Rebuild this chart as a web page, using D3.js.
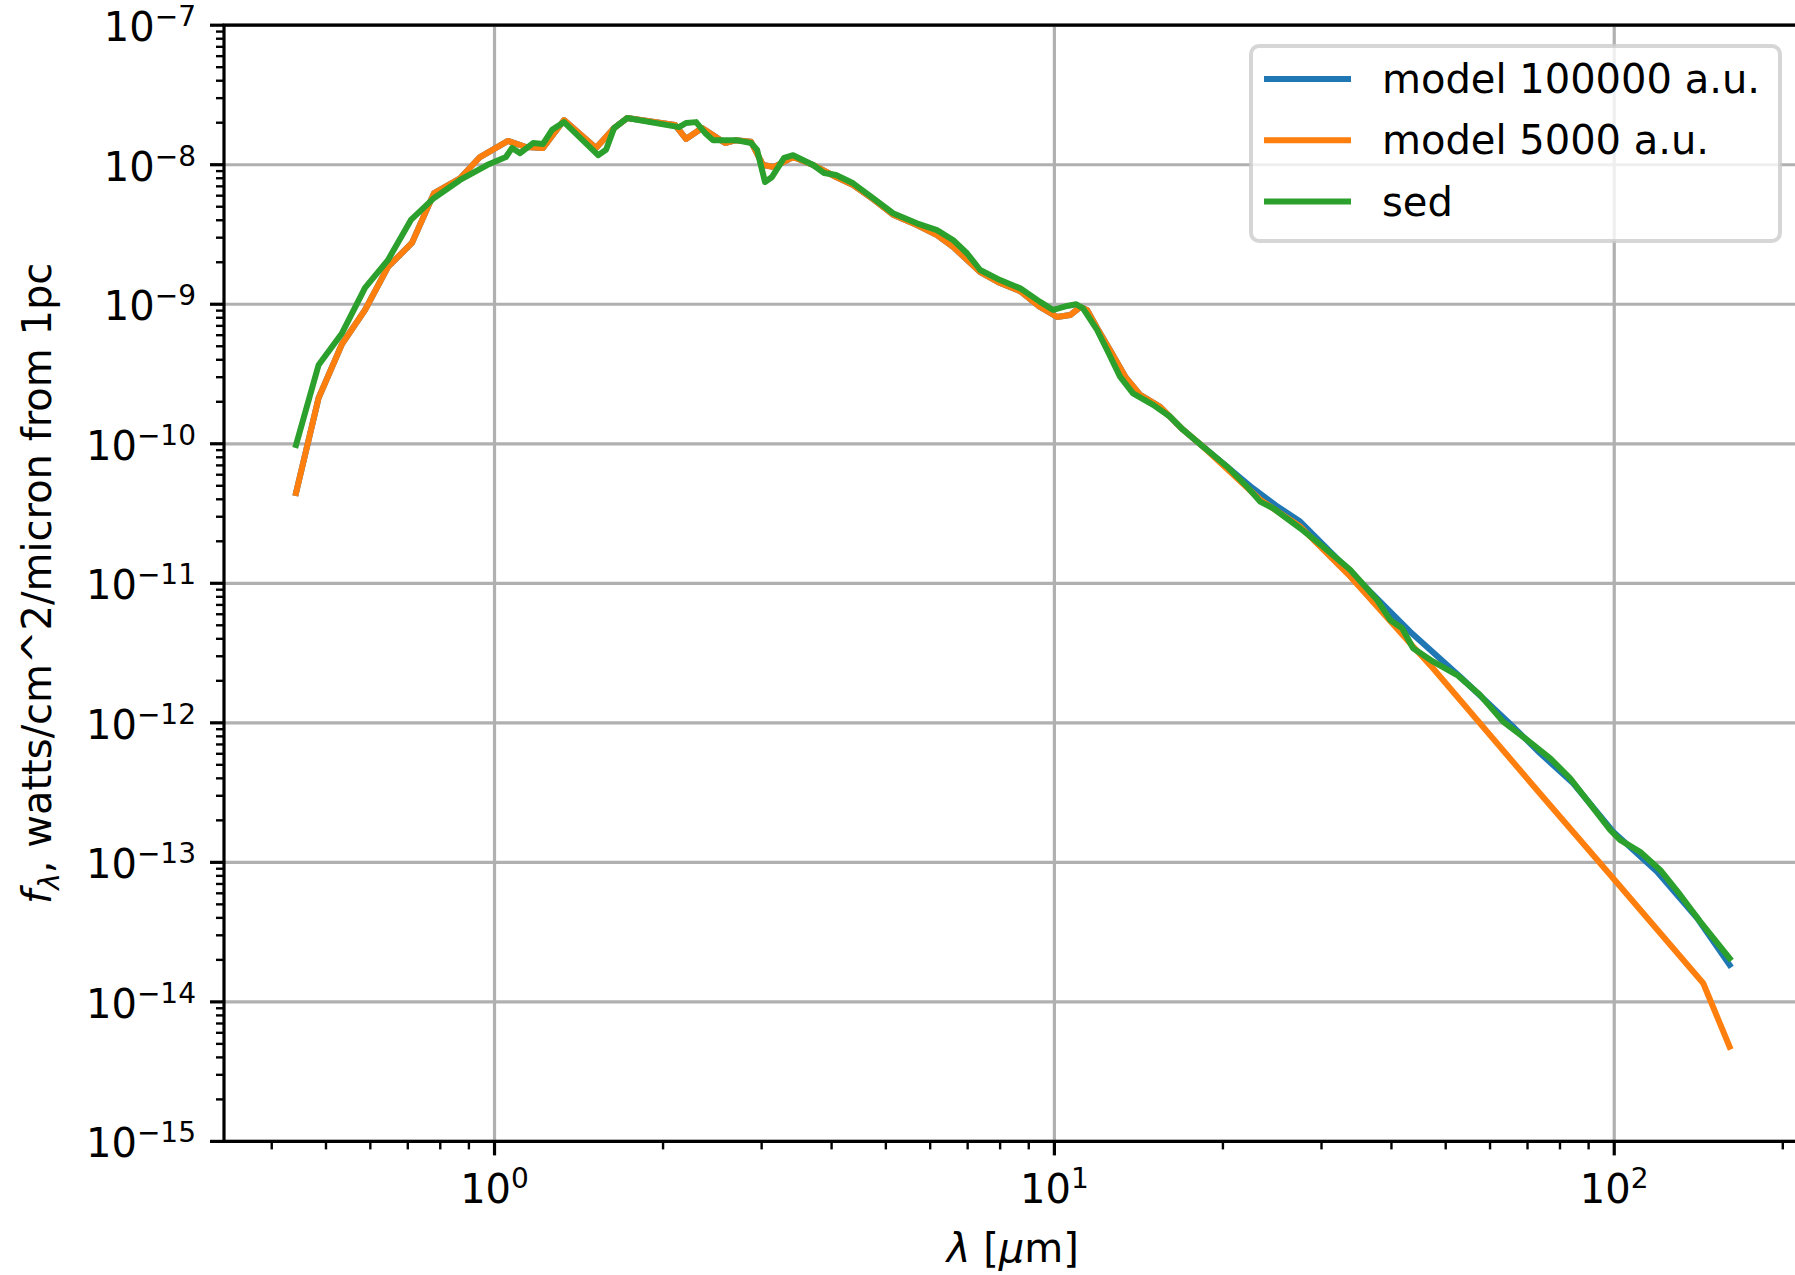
<!DOCTYPE html>
<html lang="en">
<head>
<meta charset="utf-8">
<title>SED models</title>
<script src="https://cdn.jsdelivr.net/npm/d3@7"></script>
<style>
  * { margin:0; padding:0; }
  body { background:#fff; width:1795px; height:1275px; overflow:hidden; }
  svg { display:block; font-family:'DejaVu Sans', sans-serif; }
  .grid line { stroke:#b0b0b0; stroke-width:3.2; }
  .tick-major { stroke:#000; stroke-width:3.2; }
  .tick-minor { stroke:#000; stroke-width:2.4; }
  .spine { stroke:#000; stroke-width:3.2; fill:none; stroke-linecap:square; }
  .series { fill:none; stroke-width:6; stroke-linejoin:round; stroke-linecap:square; }
  .lbl { font-size:40px; fill:#000; }
</style>
</head>
<body>
<svg id="chart" width="1795" height="1275"></svg>
<script>
// ─── Data (wavelength in micron, flux in W/cm^2/micron at 1pc) ───
const model100000 = [
  [0.442, 4.44e-11], [0.485, 2.13e-10], [0.534, 5.19e-10], [0.587, 9.10e-10], [0.645, 1.85e-9],
  [0.712, 2.75e-9], [0.780, 6.27e-9], [0.868, 8.0e-9], [0.942, 1.135e-8], [1.057, 1.48e-8],
  [1.138, 1.34e-8], [1.221, 1.32e-8], [1.331, 2.09e-8], [1.518, 1.32e-8], [1.635, 1.83e-8],
  [1.725, 2.16e-8], [2.101, 1.93e-8], [2.198, 1.53e-8], [2.348, 1.83e-8], [2.581, 1.43e-8],
  [2.700, 1.50e-8], [2.872, 1.46e-8], [3.017, 9.95e-9], [3.158, 9.64e-9], [3.414, 1.135e-8],
  [3.707, 9.95e-9], [4.074, 8.17e-9], [4.37, 7.15e-9], [4.75, 5.65e-9], [5.15, 4.38e-9],
  [5.68, 3.70e-9], [6.17, 3.13e-9], [6.59, 2.58e-9], [7.37, 1.70e-9], [8.00, 1.42e-9],
  [8.69, 1.24e-9], [9.43, 9.55e-10], [10.11, 8.10e-10], [10.67, 8.37e-10], [11.12, 9.55e-10],
  [11.44, 9.10e-10], [11.92, 6.76e-10], [12.57, 4.70e-10], [13.38, 3.03e-10], [14.23, 2.24e-10],
  [15.45, 1.84e-10], [16.98, 1.26e-10], [18.44, 9.53e-11], [20.35, 6.85e-11], [22.37, 4.98e-11],
  [24.80, 3.64e-11], [27.48, 2.77e-11], [35.17, 1.03e-11], [43.19, 4.50e-12], [53.06, 2.14e-12],
  [65.97, 9.38e-13], [73.74, 6.05e-13], [84.45, 3.69e-13], [99.54, 1.66e-13], [119.3, 8.57e-14],
  [140.7, 3.97e-14], [160.7, 1.84e-14]
];

const model5000 = [
  [0.442, 4.44e-11], [0.485, 2.13e-10], [0.534, 5.19e-10], [0.587, 9.10e-10], [0.645, 1.85e-9],
  [0.712, 2.75e-9], [0.780, 6.27e-9], [0.868, 8.0e-9], [0.942, 1.135e-8], [1.057, 1.48e-8],
  [1.138, 1.34e-8], [1.221, 1.32e-8], [1.331, 2.09e-8], [1.518, 1.32e-8], [1.635, 1.83e-8],
  [1.725, 2.16e-8], [2.101, 1.93e-8], [2.198, 1.53e-8], [2.348, 1.83e-8], [2.581, 1.43e-8],
  [2.700, 1.50e-8], [2.872, 1.46e-8], [3.017, 9.95e-9], [3.158, 9.64e-9], [3.414, 1.135e-8],
  [3.707, 9.95e-9], [4.074, 8.17e-9], [4.37, 7.15e-9], [4.75, 5.65e-9], [5.15, 4.38e-9],
  [5.68, 3.70e-9], [6.17, 3.13e-9], [6.59, 2.58e-9], [7.37, 1.70e-9], [8.00, 1.42e-9],
  [8.69, 1.24e-9], [9.43, 9.55e-10], [10.11, 8.10e-10], [10.67, 8.37e-10], [11.12, 9.55e-10],
  [11.44, 9.10e-10], [11.92, 6.76e-10], [12.57, 4.70e-10], [13.38, 3.03e-10], [14.23, 2.24e-10],
  [15.45, 1.84e-10], [16.98, 1.26e-10], [18.44, 9.53e-11], [20.35, 6.60e-11], [23.31, 3.97e-11],
  [27.48, 2.55e-11], [33.75, 1.12e-11], [38.67, 6.10e-12], [43.19, 3.72e-12], [47.49, 2.45e-12],
  [73.74, 3.10e-13], [99.54, 7.7e-14], [144.2, 1.36e-14], [160.7, 4.77e-15]
];

const sed = [
  [0.442, 9.8e-11], [0.485, 3.67e-10], [0.534, 6.2e-10], [0.587, 1.31e-9], [0.645, 2.07e-9],
  [0.709, 4.02e-9], [0.780, 5.78e-9], [0.868, 7.78e-9], [0.970, 9.95e-9], [1.048, 1.135e-8],
  [1.075, 1.32e-8], [1.111, 1.21e-8], [1.172, 1.43e-8], [1.221, 1.41e-8], [1.267, 1.78e-8],
  [1.331, 2.02e-8], [1.531, 1.17e-8], [1.582, 1.28e-8], [1.635, 1.83e-8], [1.725, 2.16e-8],
  [2.136, 1.86e-8], [2.198, 1.99e-8], [2.291, 2.02e-8], [2.377, 1.69e-8], [2.457, 1.50e-8],
  [2.700, 1.50e-8], [2.872, 1.43e-8], [2.944, 1.28e-8], [3.042, 7.52e-9], [3.131, 8.17e-9],
  [3.290, 1.12e-8], [3.414, 1.17e-8], [3.707, 9.95e-9], [3.879, 8.73e-9], [4.074, 8.44e-9],
  [4.37, 7.36e-9], [4.75, 5.74e-9], [5.15, 4.49e-9], [5.68, 3.80e-9], [6.17, 3.40e-9],
  [6.59, 2.89e-9], [6.98, 2.32e-9], [7.37, 1.76e-9], [8.00, 1.49e-9], [8.69, 1.30e-9],
  [9.43, 1.04e-9], [9.95, 9.10e-10], [10.54, 9.72e-10], [10.94, 1.00e-9], [11.25, 9.35e-10],
  [11.92, 6.54e-10], [12.42, 4.70e-10], [13.10, 3.03e-10], [13.82, 2.30e-10], [15.01, 1.90e-10],
  [16.10, 1.56e-10], [16.98, 1.26e-10], [18.44, 9.53e-11], [20.35, 6.85e-11], [22.09, 4.92e-11],
  [23.31, 3.85e-11], [24.59, 3.45e-11], [27.48, 2.48e-11], [30.20, 1.83e-11], [33.75, 1.25e-11],
  [37.72, 7.59e-12], [39.79, 5.46e-12], [41.80, 4.76e-12], [43.73, 3.42e-12], [47.49, 2.74e-12],
  [52.42, 2.20e-12], [57.60, 1.58e-12], [63.31, 1.02e-12], [69.88, 7.54e-13], [76.84, 5.57e-13],
  [83.42, 4.00e-13], [98.33, 1.71e-13], [102.4, 1.45e-13], [111.2, 1.19e-13], [120.8, 8.82e-14],
  [131.2, 5.84e-14], [142.4, 3.76e-14], [160.7, 2.05e-14]
];

const seriesNames = ['model 100000 a.u.', 'model 5000 a.u.', 'sed'];
const seriesColors = ['#1f77b4', '#ff7f0e', '#2ca02c'];
const xMajor = [1, 10, 100];
const xMajorExp = ['0', '1', '2'];
const yMajorExp = [-15, -14, -13, -12, -11, -10, -9, -8, -7];

// ─── Layout ───
const L = 224, R = 1801.6, T = 25.2, B = 1141.4;
const svg = d3.select('#chart');

const x = d3.scaleLog().domain([0.3287, 216.1]).range([L, R]);
const y = d3.scaleLog().domain([1e-15, 1e-7]).range([B, T]);

// minor tick positions 2..9 x 10^n inside the domain
function minors(lo, hi, scale) {
  const out = [];
  for (let e = lo; e <= hi; e++) for (let m = 2; m <= 9; m++) {
    const v = m * Math.pow(10, e);
    const [d0, d1] = scale.domain();
    if (v >= d0 && v <= d1) out.push(v);
  }
  return out;
}

// ─── Grid ───
const grid = svg.append('g').attr('class', 'grid');
grid.selectAll('.gx').data(xMajor).join('line')
  .attr('x1', d => x(d)).attr('x2', d => x(d)).attr('y1', T).attr('y2', B);
grid.selectAll('.gy').data(yMajorExp.map(e => Math.pow(10, e))).join('line')
  .attr('x1', L).attr('x2', R).attr('y1', d => y(d)).attr('y2', d => y(d));

// ─── Series ───
svg.append('clipPath').attr('id', 'plot-clip')
  .append('rect').attr('x', L).attr('y', T).attr('width', R - L).attr('height', B - T);

const line = d3.line().x(d => x(d[0])).y(d => y(d[1]));
const plot = svg.append('g').attr('clip-path', 'url(#plot-clip)');
[model100000, model5000, sed].forEach((s, i) => {
  plot.append('path').datum(s).attr('class', 'series')
    .attr('stroke', seriesColors[i]).attr('d', line);
});

// ─── Ticks ───
const ticks = svg.append('g');
ticks.selectAll('.xm').data(xMajor).join('line').attr('class', 'tick-major')
  .attr('x1', d => x(d)).attr('x2', d => x(d)).attr('y1', B).attr('y2', B + 14);
ticks.selectAll('.xn').data(minors(-1, 2, x)).join('line').attr('class', 'tick-minor')
  .attr('x1', d => x(d)).attr('x2', d => x(d)).attr('y1', B).attr('y2', B + 8);
ticks.selectAll('.ym').data(yMajorExp).join('line').attr('class', 'tick-major')
  .attr('x1', L - 14).attr('x2', L).attr('y1', d => y(Math.pow(10, d))).attr('y2', d => y(Math.pow(10, d)));
ticks.selectAll('.yn').data(minors(-15, -8, y)).join('line').attr('class', 'tick-minor')
  .attr('x1', L - 8).attr('x2', L).attr('y1', d => y(d)).attr('y2', d => y(d));

// ─── Spines ───
svg.append('path').attr('class', 'spine')
  .attr('d', `M${R},${T}H${L}V${B}H${R}V${T}`);

// ─── Tick labels ───
function powLabel(sel, exp) {
  sel.append('tspan').text('10');
  sel.append('tspan').attr('font-size', 28).attr('dy', -15).text(String(exp).replace('-', '\u2212'));
}
xMajor.forEach((v, i) => {
  const t = svg.append('text').attr('class', 'lbl').attr('x', x(v)).attr('y', 1203)
    .attr('text-anchor', 'middle');
  powLabel(t, xMajorExp[i]);
});
yMajorExp.forEach(e => {
  const t = svg.append('text').attr('class', 'lbl').attr('x', 196)
    .attr('y', y(Math.pow(10, e)) + 16).attr('text-anchor', 'end');
  powLabel(t, e);
});

// ─── Axis labels ───
const xl = svg.append('text').attr('class', 'lbl').attr('x', (L + R) / 2).attr('y', 1262)
  .attr('text-anchor', 'middle');
xl.append('tspan').attr('font-style', 'italic').text('\u03bb');
xl.append('tspan').text(' [');
xl.append('tspan').attr('font-style', 'italic').text('\u03bc');
xl.append('tspan').text('m]');

const yl = svg.append('text').attr('class', 'lbl')
  .attr('transform', `translate(51,${(T + B) / 2}) rotate(-90)`).attr('text-anchor', 'middle');
yl.append('tspan').attr('font-style', 'italic').text('f');
yl.append('tspan').attr('font-style', 'italic').attr('font-size', 28).attr('dy', 8).text('\u03bb');
yl.append('tspan').attr('dy', -8).text(', watts/cm^2/micron from 1pc');

// ─── Legend ───
const lg = svg.append('g');
lg.append('rect').attr('x', 1251).attr('y', 46).attr('width', 529).attr('height', 195)
  .attr('rx', 8).attr('fill', '#fff').attr('fill-opacity', 0.8)
  .attr('stroke', '#cccccc').attr('stroke-opacity', 0.8).attr('stroke-width', 4);
seriesNames.forEach((name, i) => {
  const cy = 79 + i * 61.3;
  lg.append('line').attr('x1', 1264).attr('x2', 1351).attr('y1', cy).attr('y2', cy)
    .attr('stroke', seriesColors[i]).attr('stroke-width', 6);
  lg.append('text').attr('class', 'lbl').attr('x', 1382).attr('y', cy + 14).text(name);
});
</script>
</body>
</html>
